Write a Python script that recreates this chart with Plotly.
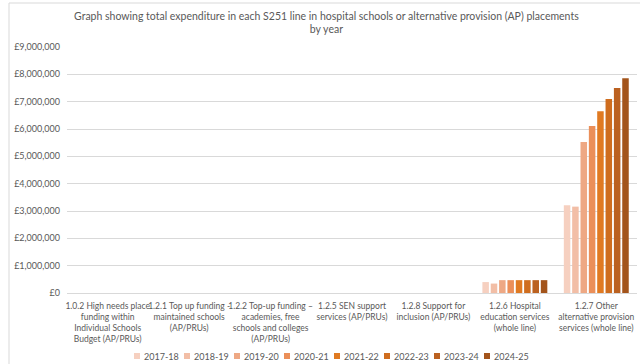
import plotly.graph_objects as go

# S251 budget lines (categories on the x axis)
categories = [
    "1.0.2 High needs place<br>funding within<br>Individual Schools<br>Budget (AP/PRUs)",
    "1.2.1 Top up funding -<br>maintained schools<br>(AP/PRUs)",
    "1.2.2 Top-up funding –<br>academies, free<br>schools and colleges<br>(AP/PRUs)",
    "1.2.5 SEN support<br>services (AP/PRUs)",
    "1.2.8 Support for<br>inclusion (AP/PRUs)",
    "1.2.6 Hospital<br>education services<br>(whole line)",
    "1.2.7 Other<br>alternative provision<br>services (whole line)",
]

years = ["2017-18", "2018-19", "2019-20", "2020-21", "2021-22", "2022-23", "2023-24", "2024-25"]

# Expenditure (£) per year, one list per budget line
high_needs_place = [0, 0, 0, 0, 0, 0, 0, 0]
top_up_maintained = [0, 0, 0, 0, 0, 0, 0, 0]
top_up_academies = [0, 0, 0, 0, 0, 0, 0, 0]
sen_support = [0, 0, 0, 0, 0, 0, 0, 0]
support_inclusion = [0, 0, 0, 0, 0, 0, 0, 0]
hospital_education = [400000, 345000, 470000, 470000, 470000, 470000, 470000, 470000]
other_ap = [3210000, 3160000, 5520000, 6110000, 6650000, 7100000, 7500000, 7860000]

year_colors = ["#F6D0C0", "#F2BEA6", "#EEA884", "#EB8F59", "#E07A22", "#CF6D1E", "#BB6120", "#A3541B"]

tick_vals = [i * 1_000_000 for i in range(10)]
tick_text = ["£0"] + [f"£{v:,}" for v in tick_vals[1:]]

lines = [high_needs_place, top_up_maintained, top_up_academies, sen_support,
         support_inclusion, hospital_education, other_ap]

text_color = "#595959"
font_family = "Lato, 'Open Sans', sans-serif"

W, H = 640, 364
M_L, M_R, M_T, M_B = 67, 3, 47, 71
PW, PH = W - M_L - M_R, H - M_T - M_B


def px_x(px):
    return (px - M_L) / PW


def px_y(py):
    return (H - M_B - py) / PH


fig = go.Figure()
for i, year in enumerate(years):
    fig.add_trace(go.Bar(
        name=year,
        x=categories,
        y=[line[i] for line in lines],
        marker=dict(color=year_colors[i], line=dict(width=0)),
        showlegend=False,
    ))

# Chart-area frame: top and left edges
border = dict(color="#D9D9D9", width=1)
shapes = [
    dict(type="line", xref="paper", yref="paper",
         x0=px_x(9), x1=px_x(W), y0=px_y(3), y1=px_y(3), line=border, layer="below"),
    dict(type="line", xref="paper", yref="paper",
         x0=px_x(9), x1=px_x(9), y0=px_y(3), y1=px_y(H), line=border, layer="below"),
]

# Horizontal key below the chart: a small swatch followed by the year
annotations = []
key_y = 356
for i, (year, col) in enumerate(zip(years, year_colors)):
    x0 = 134 + 50 * i
    shapes.append(dict(
        type="rect", xref="paper", yref="paper",
        x0=px_x(x0), x1=px_x(x0 + 6), y0=px_y(key_y + 3), y1=px_y(key_y - 3),
        line=dict(width=0), fillcolor=col,
    ))
    annotations.append(dict(
        text=year, xref="paper", yref="paper",
        x=px_x(x0 + 7.5), y=px_y(key_y), xanchor="left", yanchor="middle",
        showarrow=False, font=dict(size=9, color=text_color),
    ))

fig.update_layout(
    width=W,
    height=H,
    barmode="group",
    bargap=0.18,
    bargroupgap=0.22,
    showlegend=False,
    paper_bgcolor="white",
    plot_bgcolor="white",
    margin=dict(l=M_L, r=M_R, t=M_T, b=M_B, autoexpand=False),
    font=dict(family=font_family, size=9, color=text_color),
    title=dict(
        text="Graph showing total expenditure in each S251 line in hospital schools or alternative provision (AP) placements<br>by year",
        x=0.51, xref="container", xanchor="center",
        y=1 - 19.5 / H, yref="container", yanchor="middle",
        font=dict(size=10.5, color=text_color),
    ),
    xaxis=dict(
        showgrid=False,
        showline=True, linecolor="#D9D9D9", linewidth=1,
        ticks="", tickangle=0, automargin=False, ticklabelstandoff=5,
        tickfont=dict(size=8.5, color=text_color),
    ),
    yaxis=dict(
        range=[0, 9_000_000],
        tickvals=tick_vals, ticktext=tick_text,
        showgrid=True, gridcolor="#D9D9D9", gridwidth=1,
        zeroline=False, showline=False, automargin=False,
        ticks="", ticklabelstandoff=6,
        tickfont=dict(size=9, color=text_color),
    ),
    shapes=shapes,
    annotations=annotations,
)

fig.write_html("out.html")
